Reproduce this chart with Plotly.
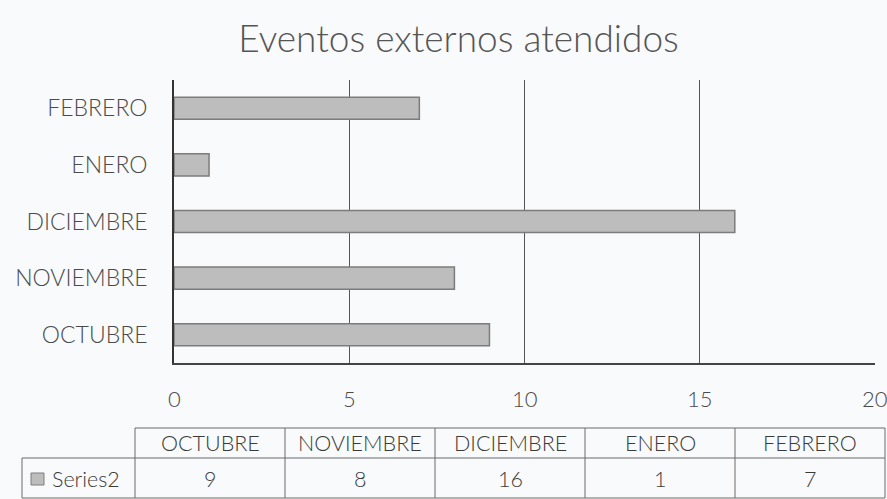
import plotly.graph_objects as go

# Chart data
months = ["OCTUBRE", "NOVIEMBRE", "DICIEMBRE", "ENERO", "FEBRERO"]
events = [9, 8, 16, 1, 7]
series_name = "Series2"
x_ticks = [0, 5, 10, 15, 20]
title_text = "Eventos externos atendidos"

# Canvas and plot-area geometry (pixels)
W, H = 887, 499
L, R, T, B = 174, 12, 80, 136
PW = W - L - R
PH = H - T - B

FONT = "Lato"
TEXT = "#3a3a3a"
LABEL = "#4a4a4a"
GRID = "#555555"
BAR = "#bdbdbd"
BAR_EDGE = "#7c7c7c"
BG = "#f9fafb"


def px_x(p):
    return (p - L) / PW


def px_y(p):
    return (H - B - p) / PH


fig = go.Figure()
fig.add_trace(go.Bar(
    y=months, x=events, orientation="h",
    marker=dict(color=BAR, line=dict(color=BAR_EDGE, width=1.5)),
    showlegend=False, hoverinfo="x+y",
))

fig.update_layout(
    width=W, height=H,
    margin=dict(l=L, r=R, t=T, b=B, pad=0),
    paper_bgcolor=BG, plot_bgcolor=BG,
    bargap=0.61,
    font=dict(family=FONT, color=TEXT),
    title=dict(text=title_text, x=0.517, xanchor="center", y=1 - 39 / H, yanchor="middle",
               font=dict(family=FONT, size=37, color="#555555", weight=300)),
    xaxis=dict(range=[0, 20], tickvals=x_ticks, showticklabels=False,
               showgrid=True, gridcolor=GRID, gridwidth=1,
               zeroline=False, showline=True, linecolor="#444444", linewidth=1.5,
               ticks="", fixedrange=True),
    yaxis=dict(categoryorder="array", categoryarray=months,
               showgrid=False, zeroline=False, showline=True, linecolor="#333333", linewidth=1.8,
               ticks="", tickfont=dict(size=23, color=LABEL, weight=300), ticklabelstandoff=20,
               fixedrange=True),
)

# X tick labels drawn as annotations so the last one may run past the edge
annotations = []
for v in x_ticks:
    annotations.append(dict(text=str(v), x=v, xref="x", y=px_y(398), yref="paper",
                            showarrow=False, xanchor="center", yanchor="middle",
                            font=dict(family=FONT, size=22, color=LABEL, weight=300)))

# Data table under the axis
tbl_left, tbl_right = 135, 885
label_left = 22
row_top, row_mid, row_bot = 428, 458, 498
col_w = (tbl_right - tbl_left) / len(months)
line_style = dict(color="#6a6a6a", width=1)

shapes = []


def hline(x0, x1, y):
    shapes.append(dict(type="line", xref="paper", yref="paper",
                       x0=px_x(x0), x1=px_x(x1), y0=px_y(y), y1=px_y(y), line=line_style))


def vline(x, y0, y1):
    shapes.append(dict(type="line", xref="paper", yref="paper",
                       x0=px_x(x), x1=px_x(x), y0=px_y(y0), y1=px_y(y1), line=line_style))


hline(tbl_left, tbl_right, row_top)
hline(label_left, tbl_right, row_mid)
hline(label_left, tbl_right, row_bot)
for i in range(len(months) + 1):
    vline(tbl_left + i * col_w, row_top, row_bot)
vline(label_left, row_mid, row_bot)

# Legend key square in the series cell
shapes.append(dict(type="rect", xref="paper", yref="paper",
                   x0=px_x(31), x1=px_x(44), y0=px_y(485), y1=px_y(473),
                   fillcolor=BAR, line=dict(color=BAR_EDGE, width=1)))

cell_font = dict(family=FONT, size=21.5, color=TEXT, weight=300)
for i, (m, v) in enumerate(zip(months, events)):
    cx = px_x(tbl_left + (i + 0.5) * col_w)
    annotations.append(dict(text=m, x=cx, y=px_y((row_top + row_mid) / 2), xref="paper", yref="paper",
                            showarrow=False, xanchor="center", yanchor="middle", font=cell_font))
    annotations.append(dict(text=str(v), x=cx, y=px_y((row_mid + row_bot) / 2 + 1), xref="paper", yref="paper",
                            showarrow=False, xanchor="center", yanchor="middle", font=cell_font))
annotations.append(dict(text=series_name, x=px_x(50), y=px_y((row_mid + row_bot) / 2 + 1),
                        xref="paper", yref="paper", showarrow=False,
                        xanchor="left", yanchor="middle", font=cell_font))

fig.update_layout(shapes=shapes, annotations=annotations)

fig.write_html("out.html")
